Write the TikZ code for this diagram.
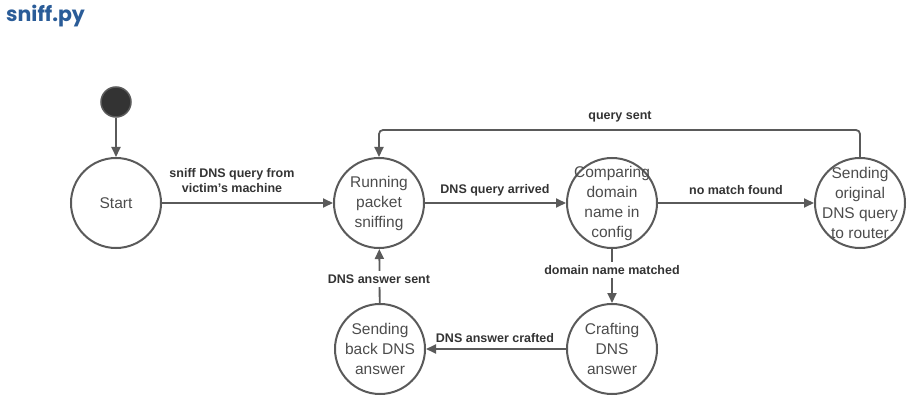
\documentclass[tikz,border=0pt]{standalone}
\usepackage{fontspec}
\setmainfont{Liberation Sans}
\newfontfamily\titlefont{Poppins}
\usetikzlibrary{arrows.meta, positioning}
\definecolor{linegray}{HTML}{5A5A5A}
\definecolor{titleblue}{HTML}{2A5C98}
\tikzstyle{state}=[shape=circle,draw=linegray,line width=2pt,minimum size=90pt,inner sep=-16pt,align=center,text=black!70,font=\fontsize{15.5}{20}\selectfont]
\tikzstyle{initial}=[shape=circle,draw=linegray,line width=1.5pt,fill=black!80,minimum size=30pt,inner sep=0pt]
\tikzstyle{mainedge}=[-{Triangle[length=10pt,width=9pt]},draw=linegray,line width=1.8pt]
\tikzstyle{edgelabel}=[align=center,text=black!80,font=\fontsize{12.5}{15}\selectfont\bfseries]

\begin{document}
\begin{tikzpicture}[x=1pt,y=-1pt]
\useasboundingbox (0,0) rectangle (920,406);
% title
\node[anchor=north west,inner sep=0pt,text=titleblue,font=\titlefont\fontsize{20.5}{24}\selectfont\bfseries] (title) at (6,5) {sniff.py};
% states
\node[initial] (init)     at (116,102) {};
\node[state]   (start)    at (116,203) {Start};
\node[state]   (run)      at (379,203) {Running\\packet\\sniffing};
\node[state]   (compare)  at (612,203) {Comparing\\domain\\name in\\config};
\node[state]   (forward)  at (860,203) {Sending\\original\\DNS query\\to router};
\node[state]   (sendback) at (380,349) {Sending\\back DNS\\answer};
\node[state]   (craft)    at (612,349) {Crafting\\DNS\\answer};
\coordinate (qtop) at (620,130);
% edges
\draw[mainedge] (init) -- (start);
\draw[mainedge] (start) -- (run);
\draw[mainedge] (run) -- (compare);
\draw[mainedge] (compare) -- (forward);
\draw[mainedge,rounded corners=4pt] (forward.north) |- (qtop) -| (run.north);
\draw[mainedge] (compare) -- (craft);
\draw[mainedge] (craft) -- (sendback);
\draw[mainedge] (sendback) -- (run);
% labels
\node[edgelabel] (l_sniff)   at (232,181) {sniff DNS query from\\victim's machine};
\node[edgelabel] (l_arrived) at (495,190) {DNS query arrived};
\node[edgelabel] (l_nomatch) at (736,190) {no match found};
\node[edgelabel] (l_qsent)   at (620,117) {query sent};
\node[edgelabel,fill=white] (l_matched) at (612,270) {domain name matched};
\node[edgelabel,fill=white] (l_sent)    at (379,279) {DNS answer sent};
\node[edgelabel] (l_crafted) at (495,338) {DNS answer crafted};
\end{tikzpicture}
\end{document}
